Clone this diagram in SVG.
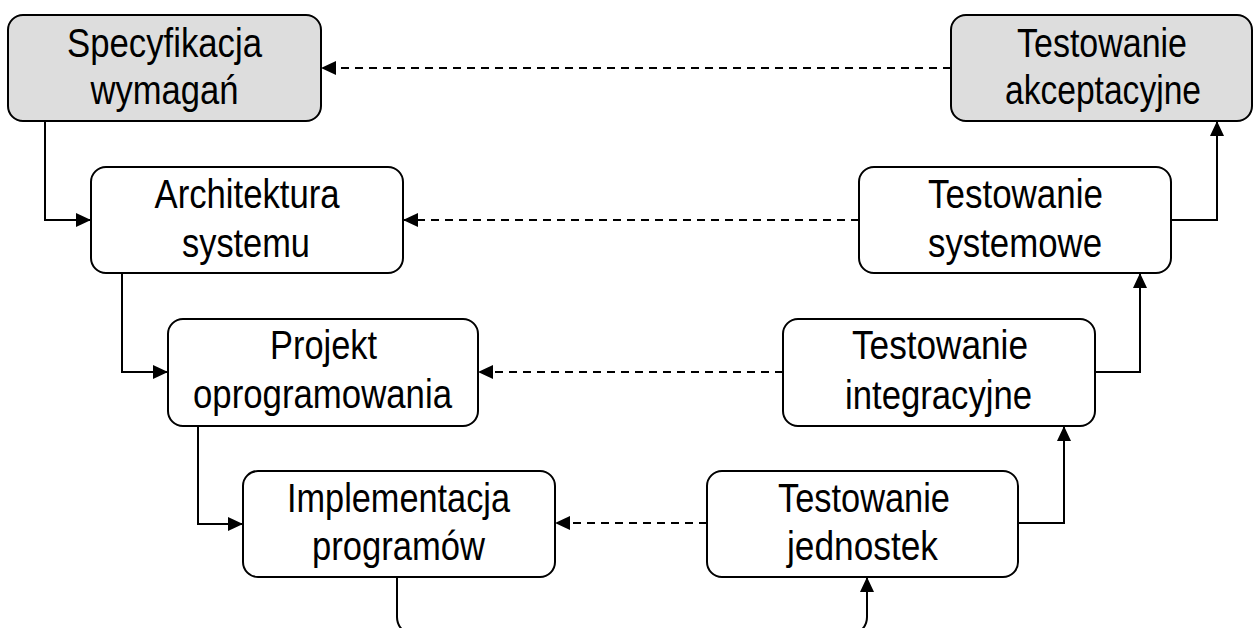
<svg xmlns="http://www.w3.org/2000/svg" width="1254" height="628" viewBox="0 0 1254 628">
<style>
.box{fill:#ffffff;stroke:#000;stroke-width:2}
.gray{fill:#dddddd}
.t{font-family:"Liberation Sans",Arial,sans-serif;font-size:40px;fill:#000;text-anchor:middle}
.c{fill:none;stroke:#000;stroke-width:2}
.d{fill:none;stroke:#000;stroke-width:2;stroke-dasharray:8 6}
</style>
<defs>
<marker id="ah" markerUnits="userSpaceOnUse" markerWidth="15" markerHeight="14" refX="15" refY="7" orient="auto">
<path d="M0,0 L15,7 L0,14 z" fill="#000"/>
</marker>
</defs>
<g id="connectors">
<path class="c" d="M45,121 V220 H91" marker-end="url(#ah)"/>
<path class="c" d="M122,273 V372 H168" marker-end="url(#ah)"/>
<path class="c" d="M198,426 V524 H243" marker-end="url(#ah)"/>
<path class="c" d="M397,577 V617 A18,18 0 0 0 415,635 H849 A18,18 0 0 0 867,617 V577" marker-end="url(#ah)"/>
<path class="c" d="M1018,523 H1064 V426" marker-end="url(#ah)"/>
<path class="c" d="M1095,372 H1140 V273" marker-end="url(#ah)"/>
<path class="c" d="M1171,220 H1217 V121" marker-end="url(#ah)"/>
<path class="d" d="M951,68 H321" marker-end="url(#ah)"/>
<path class="d" d="M859,220 H403" marker-end="url(#ah)"/>
<path class="d" d="M783,372 H478" marker-end="url(#ah)"/>
<path class="d" d="M707,523 H555" marker-end="url(#ah)"/>
</g>
<g id="spec">
<rect class="box gray" x="8" y="15" width="313" height="106" rx="15"/>
<text class="t" x="164.5" y="57" textLength="195" lengthAdjust="spacingAndGlyphs">Specyfikacja</text>
<text class="t" x="164.5" y="104" textLength="148" lengthAdjust="spacingAndGlyphs">wymagań</text>
</g>
<g id="akcept">
<rect class="box gray" x="951" y="15" width="301" height="106" rx="15"/>
<text class="t" x="1102" y="57" textLength="170" lengthAdjust="spacingAndGlyphs">Testowanie</text>
<text class="t" x="1103" y="104" textLength="196" lengthAdjust="spacingAndGlyphs">akceptacyjne</text>
</g>
<g id="arch">
<rect class="box" x="91" y="167" width="312" height="106" rx="15"/>
<text class="t" x="247" y="208" textLength="185" lengthAdjust="spacingAndGlyphs">Architektura</text>
<text class="t" x="246" y="257" textLength="128" lengthAdjust="spacingAndGlyphs">systemu</text>
</g>
<g id="sysTest">
<rect class="box" x="859" y="167" width="312" height="106" rx="15"/>
<text class="t" x="1015.5" y="208" textLength="175" lengthAdjust="spacingAndGlyphs">Testowanie</text>
<text class="t" x="1015" y="257" textLength="174" lengthAdjust="spacingAndGlyphs">systemowe</text>
</g>
<g id="projekt">
<rect class="box" x="168" y="319" width="310" height="107" rx="15"/>
<text class="t" x="323.5" y="359" textLength="107" lengthAdjust="spacingAndGlyphs">Projekt</text>
<text class="t" x="322.5" y="408" textLength="259" lengthAdjust="spacingAndGlyphs">oprogramowania</text>
</g>
<g id="integ">
<rect class="box" x="783" y="319" width="312" height="107" rx="15"/>
<text class="t" x="940" y="359" textLength="176" lengthAdjust="spacingAndGlyphs">Testowanie</text>
<text class="t" x="938.5" y="409" textLength="187" lengthAdjust="spacingAndGlyphs">integracyjne</text>
</g>
<g id="impl">
<rect class="box" x="243" y="471" width="312" height="106" rx="15"/>
<text class="t" x="398.5" y="512" textLength="223" lengthAdjust="spacingAndGlyphs">Implementacja</text>
<text class="t" x="398.5" y="560" textLength="173" lengthAdjust="spacingAndGlyphs">programów</text>
</g>
<g id="unit">
<rect class="box" x="707" y="471" width="311" height="106" rx="15"/>
<text class="t" x="864" y="512" textLength="172" lengthAdjust="spacingAndGlyphs">Testowanie</text>
<text class="t" x="862.5" y="560" textLength="151" lengthAdjust="spacingAndGlyphs">jednostek</text>
</g>
</svg>
